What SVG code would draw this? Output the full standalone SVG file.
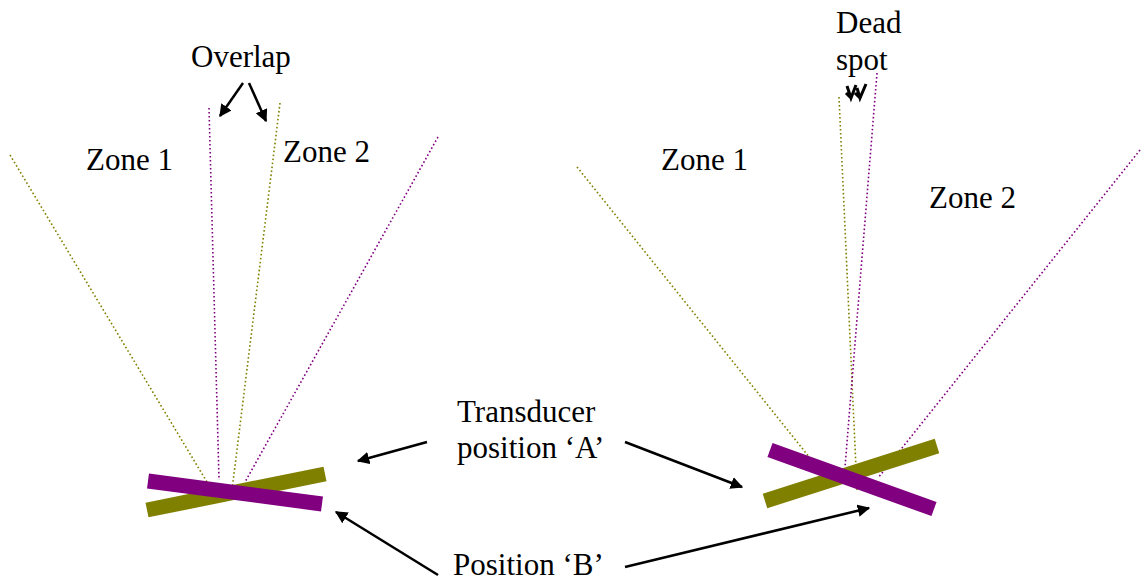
<svg xmlns="http://www.w3.org/2000/svg" width="1143" height="583" viewBox="0 0 1143 583">
<style>
text{font-family:"Liberation Serif","Times New Roman",Times,serif;font-size:31px;fill:#000}
.o{stroke:#808000}
.p{stroke:#800080}
.dot{fill:none;stroke-width:1.6;stroke-dasharray:1.6 2.4}
.bar{stroke-width:15;stroke-linecap:butt}
.arr{fill:none;stroke:#000;stroke-width:2.5;marker-end:url(#ah)}
</style>
<defs>
<marker id="ah" viewBox="0 0 10 10" refX="9" refY="5" markerWidth="5" markerHeight="5" orient="auto" markerUnits="strokeWidth">
<path d="M0,0 L10,5 L0,10 z" fill="#000"/>
</marker>
</defs>
<rect width="1143" height="583" fill="#fff"/>
<g id="left-transducer">
<line class="o dot" x1="10" y1="155" x2="213" y2="492"/>
<line class="p dot" x1="209" y1="108" x2="219" y2="480"/>
<line class="o dot" x1="280" y1="103" x2="232" y2="490"/>
<line class="p dot" x1="438" y1="137" x2="245" y2="482"/>
<line class="o bar" x1="147" y1="510" x2="325" y2="474"/>
<line class="p bar" x1="148" y1="481" x2="322" y2="504"/>
</g>
<g id="right-transducer">
<line class="o dot" x1="577" y1="167" x2="822" y2="473"/>
<line class="o dot" x1="839" y1="97" x2="857" y2="490"/>
<line class="p dot" x1="877" y1="73" x2="845" y2="467"/>
<line class="p dot" x1="1140" y1="150" x2="878" y2="478"/>
<line class="o bar" x1="765" y1="501" x2="937" y2="446"/>
<line class="p bar" x1="770" y1="450" x2="934" y2="509"/>
</g>
<g id="labels">
<text x="191" y="67">Overlap</text>
<text x="836" y="33">Dead</text>
<text x="836" y="70">spot</text>
<text x="86" y="170">Zone 1</text>
<text x="283" y="162">Zone 2</text>
<text x="661" y="170">Zone 1</text>
<text x="929" y="208">Zone 2</text>
<text x="457" y="422">Transducer</text>
<text x="457" y="458">position ‘A’</text>
<text x="453" y="575">Position ‘B’</text>
</g>
<g id="connectors">
<line class="arr" x1="243" y1="83" x2="220" y2="116"/>
<line class="arr" x1="249" y1="83" x2="266" y2="121"/>
<path d="M847,86 L851,98 L856,85 M857,88 L860,98 L866,84 M846,93 L851,98 M855,93 L860,98" fill="none" stroke="#000" stroke-width="3" stroke-linejoin="miter"/>
<line class="arr" x1="427" y1="442" x2="358" y2="461"/>
<line class="arr" x1="625" y1="442" x2="742" y2="487"/>
<line class="arr" x1="438" y1="575" x2="336" y2="512"/>
<line class="arr" x1="625" y1="567" x2="869" y2="508"/>
</g>
</svg>
